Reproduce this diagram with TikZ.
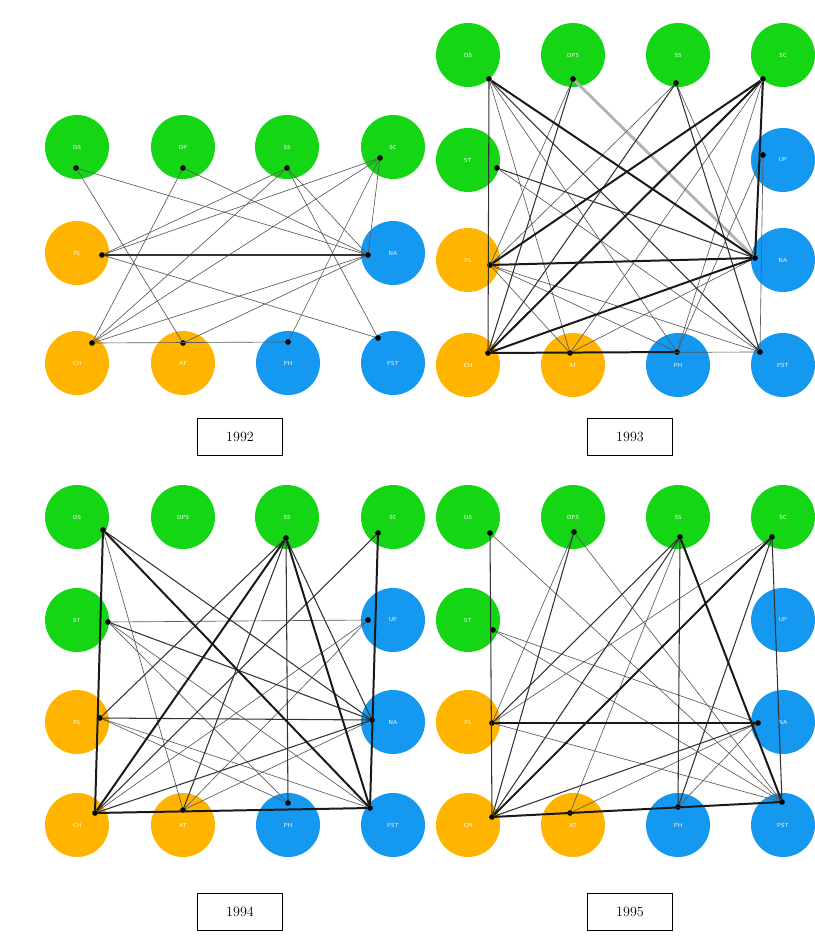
\documentclass[tikz,border=0pt]{standalone}
\usepackage{tikz}
\usetikzlibrary{positioning,calc}
\definecolor{verde}{RGB}{20,214,20}
\definecolor{arancio}{RGB}{255,180,0}
\definecolor{blu}{RGB}{20,152,240}
\tikzstyle{pg} = [circle, fill=verde, minimum size=1.92cm, inner sep=0pt, text=white, font=\sffamily\tiny]
\tikzstyle{po} = [pg, fill=arancio]
\tikzstyle{pb} = [pg, fill=blu]
\tikzstyle{porta} = [circle, fill=black, inner sep=0pt, minimum size=0.17cm]
\tikzstyle{anno} = [rectangle, draw=black, fill=white, minimum width=2.55cm, minimum height=1.1cm, font=\large]
\tikzstyle{debole} = [black!65, line width=0.55pt]
\tikzstyle{medio} = [black!80, line width=0.9pt]
\tikzstyle{forte} = [black!90, line width=1.7pt]
\tikzstyle{chiaro} = [black!30, line width=2.4pt]

\begin{document}
\begin{tikzpicture}[x=0.03cm, y=-0.03cm]
\useasboundingbox (0,0) rectangle (814,937);

% 1992
\node (n92DS) at (77,147) [pg] {DS};
\node (n92DP) at (183,147) [pg] {DP};
\node (n92SS) at (287,147) [pg] {SS};
\node (n92SC) at (393,147) [pg] {SC};
\node (n92PL) at (77,253) [po] {PL};
\node (n92NA) at (393,253) [pb] {NA};
\node (n92CH) at (77,363) [po] {CH};
\node (n92AT) at (183,363) [po] {AT};
\node (n92PH) at (288,363) [pb] {PH};
\node (n92PST) at (393,363) [pb] {PST};
\node (p92DS) at (76,168) [porta] {};
\node (p92DP) at (183,168) [porta] {};
\node (p92SS) at (287,168) [porta] {};
\node (p92SC) at (380,158) [porta] {};
\node (p92PL) at (102,255) [porta] {};
\node (p92NA) at (368,255) [porta] {};
\node (p92CH) at (92,343) [porta] {};
\node (p92AT) at (183,343) [porta] {};
\node (p92PH) at (288,342) [porta] {};
\node (p92PST) at (378,338) [porta] {};
\foreach \u/\v in {DS/AT, DS/NA, DP/CH, DP/NA, SS/CH, SS/PL, SS/NA, SS/PST, SC/CH, SC/PL,
  SC/NA, SC/PH, PL/PST, CH/NA, CH/PH, AT/NA}
  \draw[debole] (p92\u) -- (p92\v);
\draw[medio] (p92PL) -- (p92NA);
\node (a92) at (240,437) [anno] {1992};

% 1993
\node (n93DS) at (468,55) [pg] {DS};
\node (n93DPS) at (573,55) [pg] {DPS};
\node (n93SS) at (678,55) [pg] {SS};
\node (n93SC) at (783,55) [pg] {SC};
\node (n93ST) at (468,160) [pg] {ST};
\node (n93UP) at (783,160) [pb] {UP};
\node (n93PL) at (468,260) [po] {PL};
\node (n93NA) at (783,260) [pb] {NA};
\node (n93CH) at (468,365) [po] {CH};
\node (n93AT) at (573,365) [po] {AT};
\node (n93PH) at (678,365) [pb] {PH};
\node (n93PST) at (783,365) [pb] {PST};
\node (p93DS) at (489,79) [porta] {};
\node (p93DPS) at (573,79) [porta] {};
\node (p93SS) at (676,83) [porta] {};
\node (p93SC) at (763,79) [porta] {};
\node (p93ST) at (497,168) [porta] {};
\node (p93UP) at (763,155) [porta] {};
\node (p93PL) at (490,265) [porta] {};
\node (p93NA) at (755,258) [porta] {};
\node (p93CH) at (488,353) [porta] {};
\node (p93AT) at (570,353) [porta] {};
\node (p93PH) at (677,352) [porta] {};
\node (p93PST) at (760,352) [porta] {};
\draw[chiaro] (p93DPS) -- (p93NA);
\foreach \u/\v in {DS/AT, DS/PH, DPS/PL, SS/PL, SS/NA, SC/AT, SC/PH, ST/PST, UP/PH, UP/PST,
  PL/AT, PL/PH, PL/PST, CH/PST, AT/NA}
  \draw[debole] (p93\u) -- (p93\v);
\foreach \u/\v in {DS/CH, DS/PST, DPS/CH, SS/CH, SS/PST, ST/NA}
  \draw[medio] (p93\u) -- (p93\v);
\foreach \u/\v in {DS/NA, SC/CH, SC/PL, SC/NA, PL/NA, CH/NA, CH/PH}
  \draw[forte] (p93\u) -- (p93\v);
\node (a93) at (630,437) [anno] {1993};

% 1994
\node (n94DS) at (77,517) [pg] {DS};
\node (n94DPS) at (183,517) [pg] {DPS};
\node (n94SS) at (287,517) [pg] {SS};
\node (n94SC) at (393,517) [pg] {SC};
\node (n94ST) at (77,620) [pg] {ST};
\node (n94UP) at (393,620) [pb] {UP};
\node (n94PL) at (77,722) [po] {PL};
\node (n94NA) at (393,722) [pb] {NA};
\node (n94CH) at (77,825) [po] {CH};
\node (n94AT) at (183,825) [po] {AT};
\node (n94PH) at (288,825) [pb] {PH};
\node (n94PST) at (393,825) [pb] {PST};
\node (p94DS) at (103,530) [porta] {};
\node (p94SS) at (286,538) [porta] {};
\node (p94SC) at (378,533) [porta] {};
\node (p94ST) at (108,622) [porta] {};
\node (p94UP) at (368,620) [porta] {};
\node (p94PL) at (100,718) [porta] {};
\node (p94NA) at (372,720) [porta] {};
\node (p94CH) at (95,813) [porta] {};
\node (p94AT) at (183,810) [porta] {};
\node (p94PH) at (288,803) [porta] {};
\node (p94PST) at (370,808) [porta] {};
\foreach \u/\v in {DS/AT, ST/UP, ST/PH, ST/PST, UP/CH, UP/AT, PL/PST, AT/NA, PH/PL}
  \draw[debole] (p94\u) -- (p94\v);
\foreach \u/\v in {DS/NA, SS/PL, SS/AT, SS/NA, SC/CH, ST/NA, PL/NA, CH/NA, SS/PH}
  \draw[medio] (p94\u) -- (p94\v);
\foreach \u/\v in {DS/CH, DS/PST, SS/CH, SS/PST, SC/PST, CH/PST}
  \draw[forte] (p94\u) -- (p94\v);
\node (a94) at (240,912) [anno] {1994};

% 1995
\node (n95DS) at (468,517) [pg] {DS};
\node (n95DPS) at (573,517) [pg] {DPS};
\node (n95SS) at (678,517) [pg] {SS};
\node (n95SC) at (783,517) [pg] {SC};
\node (n95ST) at (468,620) [pg] {ST};
\node (n95UP) at (783,620) [pb] {UP};
\node (n95PL) at (468,722) [po] {PL};
\node (n95NA) at (783,722) [pb] {NA};
\node (n95CH) at (468,825) [po] {CH};
\node (n95AT) at (573,825) [po] {AT};
\node (n95PH) at (678,825) [pb] {PH};
\node (n95PST) at (783,825) [pb] {PST};
\node (p95DS) at (490,533) [porta] {};
\node (p95DPS) at (574,532) [porta] {};
\node (p95SS) at (680,537) [porta] {};
\node (p95SC) at (772,537) [porta] {};
\node (p95ST) at (493,630) [porta] {};
\node (p95PL) at (492,723) [porta] {};
\node (p95NA) at (758,723) [porta] {};
\node (p95CH) at (492,817) [porta] {};
\node (p95AT) at (570,813) [porta] {};
\node (p95PH) at (678,807) [porta] {};
\node (p95PST) at (782,802) [porta] {};
\foreach \u/\v in {DS/PST, DPS/PL, DPS/PST, SS/AT, SC/PL, ST/NA, ST/PST, PL/PST, AT/NA, PH/NA}
  \draw[debole] (p95\u) -- (p95\v);
\foreach \u/\v in {DS/CH, DPS/CH, SS/CH, SS/PL, SS/PH, SC/PST, SC/PH, CH/NA}
  \draw[medio] (p95\u) -- (p95\v);
\foreach \u/\v in {SC/CH, SS/PST, PL/NA, CH/PST}
  \draw[forte] (p95\u) -- (p95\v);
\node (a95) at (630,912) [anno] {1995};
\end{tikzpicture}
\end{document}
